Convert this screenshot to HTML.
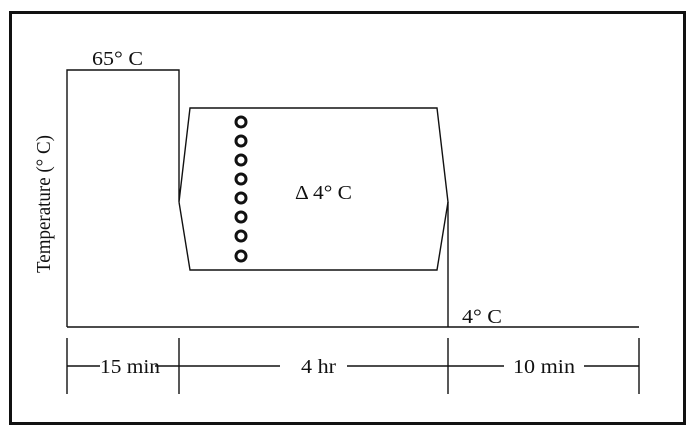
<!DOCTYPE html>
<html><head><style>body{margin:0;background:#fff}svg{display:block}</style></head><body>
<svg width="700" height="440" viewBox="0 0 700 440" xmlns="http://www.w3.org/2000/svg" font-family="Liberation Serif, serif" font-size="20">
<rect x="10.5" y="12.5" width="674" height="411" fill="none" stroke="#111" stroke-width="3"/>
<g fill="none" stroke="#111" stroke-width="1.4">
<polyline points="67,327 67,70 179,70 179,202 190,108 437,108 448,202 437,270 190,270 179,202"/>
<line x1="448" y1="202" x2="448" y2="327"/>
<line x1="67" y1="327" x2="639" y2="327"/>
<line x1="67" y1="338" x2="67" y2="394"/>
<line x1="179" y1="338" x2="179" y2="394"/>
<line x1="448" y1="338" x2="448" y2="394"/>
<line x1="639" y1="338" x2="639" y2="394"/>
<line x1="67" y1="366" x2="100" y2="366"/>
<line x1="155" y1="366" x2="280" y2="366"/>
<line x1="347" y1="366" x2="504" y2="366"/>
<line x1="584" y1="366" x2="639" y2="366"/>
</g>
<g fill="none" stroke="#111" stroke-width="3">
<circle cx="241" cy="122" r="5"/><circle cx="241" cy="141" r="5"/><circle cx="241" cy="160" r="5"/><circle cx="241" cy="179" r="5"/><circle cx="241" cy="198" r="5"/><circle cx="241" cy="217" r="5"/><circle cx="241" cy="236" r="5"/><circle cx="241" cy="256" r="5"/>
</g>
<g fill="#111">
<text x="92" y="65" textLength="51" lengthAdjust="spacingAndGlyphs">65° C</text>
<text x="295" y="199" textLength="57" lengthAdjust="spacingAndGlyphs">Δ 4° C</text>
<text x="462" y="323" textLength="40" lengthAdjust="spacingAndGlyphs">4° C</text>
<text x="100" y="373" textLength="60" lengthAdjust="spacingAndGlyphs">15 min</text>
<text x="301" y="373" textLength="35" lengthAdjust="spacingAndGlyphs">4 hr</text>
<text x="513" y="373" textLength="62" lengthAdjust="spacingAndGlyphs">10 min</text>
<text transform="translate(50,204) rotate(-90)" text-anchor="middle" textLength="138" lengthAdjust="spacingAndGlyphs">Temperature (° C)</text>
</g>
</svg>
</body></html>
